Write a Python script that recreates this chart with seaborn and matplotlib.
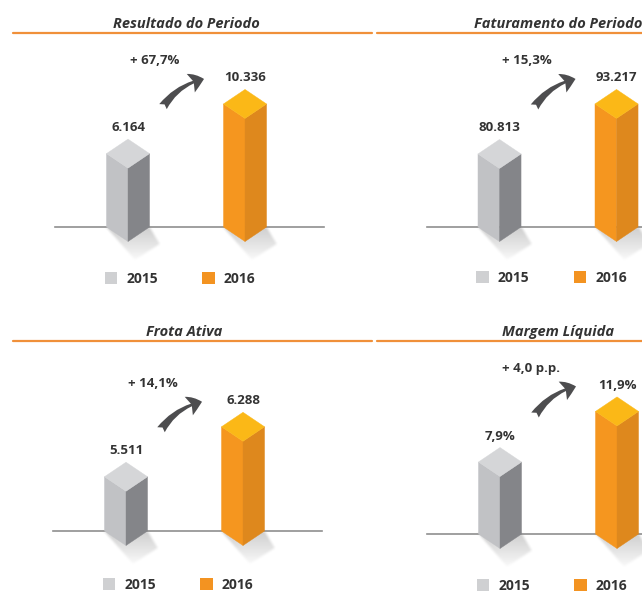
import numpy as np
import pandas as pd
import matplotlib.pyplot as plt
import seaborn as sns
from matplotlib.patches import Polygon, Patch, FancyArrowPatch
from matplotlib.lines import Line2D
from matplotlib.path import Path

# =========================
# Data
# =========================
YEARS = ["2015", "2016"]
TITLES = ["Resultado do Periodo", "Faturamento do Periodo", "Frota Ativa", "Margem Líquida"]
RESULTADO = [6.164, 10.336]
FATURAMENTO = [80.813, 93.217]
FROTA = [5.511, 6.288]
MARGEM = [7.9, 11.9]
RESULTADO_LBL = ["6.164", "10.336"]
FATURAMENTO_LBL = ["80.813", "93.217"]
FROTA_LBL = ["5.511", "6.288"]
MARGEM_LBL = ["7,9%", "11,9%"]
CHANGES = ["+ 67,7%", "+ 15,3%", "+ 14,1%", "+ 4,0 p.p."]

# =========================
# Style / layout (pixels of a 642x604 canvas)
# =========================
W, H = 642, 604
PANEL_X = [0, 371.5, -2, 372]
BASE_Y = [227, 227, 531, 534]
TITLE_Y = [24, 24, 332, 332]
LINE_Y = [33, 33, 341, 341]
LEGEND_Y = [279, 278, 585, 586]
YLIMS = [(0, 12.6), (62.7, 99.9), (4.667, 7.0), (2.207, 14.07)]
XLIM = (-0.624, 1.675)
AX_W, AX_H = 269, 150

TEXT_C = "#333333"
ORANGE_LINE = "#f0903a"
GRAY = {"front": "#c1c2c5", "side": "#848589", "top": "#d5d6d8", "legend": "#cfd0d2"}
ORNG = {"front": "#f5961f", "side": "#de881d", "top": "#fbb817", "legend": "#f39321"}
ARROW_C = "#4d4d4f"


def px_fig(x, y):
    return x / W, 1 - y / H


def blur(a, r):
    k = np.ones(2 * r + 1) / (2 * r + 1)
    a = np.apply_along_axis(lambda v: np.convolve(v, k, mode="same"), 0, a)
    a = np.apply_along_axis(lambda v: np.convolve(v, k, mode="same"), 1, a)
    return a


def draw_shadow(ax, xl, xm, xr, yb):
    # soft floor shadow (display pixels, y up), blurred gradient image
    pts = np.array([(xl, yb), (xr, yb), (xr + 10, yb - 17), (xm + 7, yb - 33)])
    x0, x1 = xl - 6, xr + 18
    y0, y1 = yb - 40, yb + 4
    ss = 2
    xs = np.linspace(x0, x1, int((x1 - x0) * ss))
    ys = np.linspace(y0, y1, int((y1 - y0) * ss))
    gx, gy = np.meshgrid(xs, ys)
    mask = Path(pts).contains_points(np.c_[gx.ravel(), gy.ravel()]).reshape(gx.shape)
    depth = np.clip((yb - gy) / 36.0, 0, 1)
    alpha = blur(mask.astype(float), 3) * (0.42 * (1 - depth) ** 0.9)
    img = np.zeros(gx.shape + (4,))
    img[..., :3] = 0.55
    img[..., 3] = alpha
    inv = ax.transData.inverted().transform
    (dx0, dy0), (dx1, dy1) = inv((x0, y0)), inv((x1, y1))
    ax.imshow(img, extent=(dx0, dx1, dy0, dy1), origin="lower", aspect="auto",
              interpolation="bilinear", zorder=2.6, clip_on=False)


def draw_prism(ax, xc, w, top, base, cols, d=14.5):
    to_px = ax.transData.transform
    to_data = ax.transData.inverted().transform
    xl, yt = to_px((xc - w / 2, top))
    xr, _ = to_px((xc + w / 2, top))
    xm, yb = to_px((xc, base))

    def poly(pts, color, z):
        ax.add_patch(Polygon(to_data(np.array(pts)), closed=True, facecolor=color,
                             edgecolor=color, lw=0.3, zorder=z, clip_on=False))

    draw_shadow(ax, xl, xm, xr, yb)
    poly([(xl, yt), (xm, yt - d), (xm, yb - d), (xl, yb)], cols["front"], 3)
    poly([(xm, yt - d), (xr, yt), (xr, yb), (xm, yb - d)], cols["side"], 3)
    poly([(xl, yt), (xm, yt + d), (xr, yt), (xm, yt - d)], cols["top"], 3.1)


def draw_panel(fig, i, values, labels):
    px0 = PANEL_X[i]
    fx, fy = px_fig(px0 + 55, BASE_Y[i])
    ax = fig.add_axes([fx, fy, AX_W / W, AX_H / H])
    ax.patch.set_visible(False)

    df = pd.DataFrame({"ano": YEARS, "valor": values})
    sns.barplot(data=df, x="ano", y="valor", hue="ano",
                palette=[GRAY["front"], ORNG["front"]], width=0.368,
                legend=False, ax=ax)
    ax.set_xlim(*XLIM)
    ax.set_ylim(*YLIMS[i])
    ax.set_xlabel("")
    ax.set_ylabel("")
    ax.set_yticks([])
    ax.set_xticks([0.5])
    ax.set_xticklabels([""])
    ax.tick_params(axis="x", direction="inout", length=8, width=1, color="#8f8f8f")
    for sp in ["top", "right", "left"]:
        ax.spines[sp].set_visible(False)
    ax.spines["bottom"].set_color("#8f8f8f")
    ax.spines["bottom"].set_linewidth(1.2)

    bars = list(ax.patches)
    tops = {}
    for p in bars:
        xc = p.get_x() + p.get_width() / 2
        j = int(round(xc))
        cols = GRAY if j == 0 else ORNG
        p.set_visible(False)
        draw_prism(ax, xc, p.get_width(), p.get_height(), YLIMS[i][0], cols)
        tops[j] = (xc, p.get_height())
        ax.annotate(labels[j], xy=(xc, p.get_height()), xytext=(0, 26),
                    textcoords="offset pixels", ha="center", va="center",
                    fontsize=9.5, fontweight="bold", color=TEXT_C,
                    annotation_clip=False)
    ax.set_xlim(*XLIM)
    ax.set_ylim(*YLIMS[i])

    # change label + curved arrow
    (x0, h0), (x1, h1) = tops[0], tops[1]
    ax.annotate(CHANGES[i], xy=(x0, h1), xytext=(2, 43),
                textcoords="offset pixels", ha="left", va="center",
                fontsize=9.5, fontweight="bold", color=TEXT_C,
                annotation_clip=False)
    to_px = ax.transData.transform
    to_data = ax.transData.inverted().transform
    a_px = to_px((x0, h0)) + np.array([35, 47])
    b_px = to_px((x1, h1)) + np.array([-41, 25])
    arrow = FancyArrowPatch(to_data(a_px), to_data(b_px),
                            arrowstyle="fancy,head_length=1.0,head_width=1.45,tail_width=0.65",
                            connectionstyle="arc3,rad=-0.2", mutation_scale=10,
                            color=ARROW_C, lw=0, shrinkA=0, shrinkB=0,
                            clip_on=False, zorder=4)
    ax.add_patch(arrow)

    # title
    ax.annotate(TITLES[i], xy=(0.5, 1 - TITLE_Y[i] / H), xycoords=("data", "figure fraction"),
                ha="center", va="center", fontsize=10.5, fontstyle="italic",
                fontweight="bold", color=TEXT_C, annotation_clip=False)

    # legend
    handles = [Patch(facecolor=GRAY["legend"], edgecolor="none"),
               Patch(facecolor=ORNG["legend"], edgecolor="none")]
    leg = ax.legend(handles, YEARS, ncol=2, loc="center",
                    bbox_to_anchor=px_fig(px0 + 180, LEGEND_Y[i]),
                    bbox_transform=fig.transFigure, frameon=False,
                    handlelength=0.9, handleheight=0.9, handletextpad=0.65,
                    columnspacing=3.2, borderpad=0, fontsize=10)
    for t in leg.get_texts():
        t.set_fontweight("bold")
        t.set_color(TEXT_C)
    return ax


def main():
    sns.set_style("white")
    plt.rcParams["font.family"] = ["Open Sans", "DejaVu Sans"]

    fig = plt.figure(figsize=(W / 100, H / 100), dpi=100)

    # orange header rules
    for ly in [LINE_Y[0], LINE_Y[2]]:
        for xa, xb in [(13, 372), (377, 645)]:
            (fa, fy), (fb, _) = px_fig(xa, ly), px_fig(xb, ly)
            fig.add_artist(Line2D([fa, fb], [fy, fy], transform=fig.transFigure,
                                  color=ORANGE_LINE, lw=1.6))

    series = [(RESULTADO, RESULTADO_LBL), (FATURAMENTO, FATURAMENTO_LBL),
              (FROTA, FROTA_LBL), (MARGEM, MARGEM_LBL)]
    for i, (vals, lbls) in enumerate(series):
        draw_panel(fig, i, vals, lbls)

    fig.savefig("out.png", dpi=100, facecolor="white")
    plt.close(fig)


if __name__ == "__main__":
    main()
